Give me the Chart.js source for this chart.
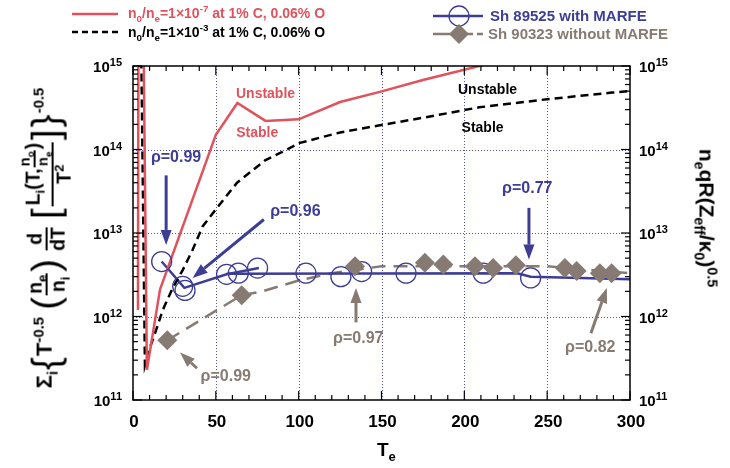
<!DOCTYPE html>
<html>
<head>
<meta charset="utf-8">
<script src="https://cdn.jsdelivr.net/npm/chart.js@4.4.0/dist/chart.umd.min.js"></script>
<style>
  html, body { margin:0; padding:0; background:#fff; }
  #wrap { position:relative; width:730px; height:468px; font-family:"Liberation Sans", Arial, sans-serif; font-weight:bold; }
  #c { position:absolute; left:0; top:0; }
  .lbl { position:absolute; white-space:nowrap; line-height:1; }
  .lbl sub, .lbl sup { font-size:70%; line-height:0; }
  .rot { position:absolute; white-space:nowrap; line-height:1; transform:translate(-50%,-50%) rotate(-90deg); }
  .rot90 { transform:translate(-50%,-50%) rotate(90deg); }
  .frac { display:inline-flex; flex-direction:column; vertical-align:middle; text-align:center; font-size:88%; line-height:1.05; margin:0 1px; }
  .frac > span:first-child { border-bottom:2px solid #000; padding:0 1px 1px; }
  .big { font-size:175%; font-weight:normal; vertical-align:middle; margin:0 1px; }
  .rot sub, .rot sup { font-size:68%; line-height:0; }
</style>
</head>
<body>
<div id="wrap">
  <canvas id="c" width="730" height="468"></canvas>

  <div class="lbl" style="left:128px;top:6px;font-size:14px;color:#e0525c">n<sub>0</sub>/n<sub>e</sub>=1&times;10<sup>-7</sup> at 1% C, 0.06% O</div>
  <div class="lbl" style="left:128px;top:25px;font-size:14px;color:#000">n<sub>0</sub>/n<sub>e</sub>=1&times;10<sup>-3</sup> at 1% C, 0.06% O</div>
  <div class="lbl" style="left:490px;top:8px;font-size:15px;color:#3d3d96">Sh 89525 with MARFE</div>
  <div class="lbl" style="left:488px;top:26px;font-size:15px;color:#877a72">Sh 90323 without MARFE</div>

  <div class="lbl" style="left:377px;top:440px;font-size:19px">T<sub style="font-size:13px">e</sub></div>

  <div class="rot" style="left:46px;top:238px;font-size:22px">
    &Sigma;<sub>i</sub><span class="big">{</span>T<sup>-0.5</sup> <span class="big">(</span><span class="frac"><span>n<sub>e</sub></span><span>n<sub>i</sub></span></span><span class="big">)</span>
    <span class="frac"><span>d</span><span>dT</span></span>
    <span class="big">[</span><span class="frac"><span>L<sub>i</sub>(T,<span class="frac" style="font-size:75%"><span>n<sub>o</sub></span><span>n<sub>e</sub></span></span>)</span><span>T<sup>2</sup></span></span><span class="big">]</span><span class="big">}</span><sup>-0.5</sup>
  </div>

  <div class="rot rot90" style="left:707px;top:218px;font-size:21px">n<sub>e</sub>qR(Z<sub>eff</sub>/&kappa;<sub>0</sub>)<sup>0.5</sup></div>
</div>

<script>
// ---------- DATA (T_e, value) ----------
const redT  = [3.0, 3.3, 6.0, 8.4, 16.3, 50, 63, 80, 100, 125, 149, 175, 209, 240];
const redV  = [1.2e12, 1e16, 1e16, 2.3e11, 2.1e12, 1.5e14, 3.6e14, 2.2e14, 2.3e14, 3.7e14, 4.9e14, 6.8e14, 1.0e15, 1.4e15];

const blackT = [4.5, 7.2, 10.3, 14.5, 18, 24, 30, 36, 42, 50.7, 62.8, 79.7, 100.8, 125, 149, 180, 209, 250, 289, 300];
const blackV = [1e16, 2.6e11, 4.3e11, 7.4e11, 1.2e12, 2.2e12, 3.6e12, 6.3e12, 1.2e13, 2.0e13, 4.0e13, 7.4e13, 1.2e14, 1.6e14, 1.95e14, 2.5e14, 3.2e14, 4.0e14, 4.8e14, 5.0e14];

const shotAT = [17.3, 30, 31.4, 56.5, 63.6, 75.2, 104.4, 125.5, 138, 164.8, 211.4, 240];
const shotAV = [4.55e12, 2.3e12, 2.05e12, 3.2e12, 3.3e12, 3.8e12, 3.3e12, 3.0e12, 3.45e12, 3.3e12, 3.3e12, 2.9e12];
const fitA1T = [17.3, 31, 56.5, 76];
const fitA1V = [4.55e12, 2.2e12, 3.2e12, 3.8e12];
const fitA2T = [56.5, 232, 240, 300];
const fitA2V = [3.25e12, 3.3e12, 3.0e12, 2.8e12];

const shotBT = [20.7, 65.6, 134, 176.2, 187.3, 206.4, 217.4, 231.1, 260.7, 267.8, 281.8, 288.9];
const shotBV = [5.2e11, 1.8e12, 4.0e12, 4.4e12, 4.2e12, 4.0e12, 3.8e12, 4.1e12, 3.8e12, 3.5e12, 3.3e12, 3.3e12];
const fitBT = [20.7, 65.6, 78, 100, 120, 150, 250, 300];
const fitBV = [5.2e11, 1.8e12, 2.0e12, 2.7e12, 3.3e12, 4.0e12, 4.0e12, 3.3e12];

const xTicks = [0, 50, 100, 150, 200, 250, 300];
const yDecades = [11, 12, 13, 14, 15];

const RED = '#e0525c', BLUE = '#3d3d96', GRAY = '#877a72', GRID = '#5555b0';

const pts = (ts, vs) => ts.map((t, i) => ({x: t, y: vs[i]}));

// annotations in data coordinates
const notes = [
  {text:'Unstable', t:80,  v:4.6e14, color:RED, size:14},
  {text:'Stable',   t:75,  v:1.55e14, color:RED, size:14},
  {text:'Unstable', t:214, v:5.1e14, color:'#000', size:14},
  {text:'Stable',   t:211, v:1.8e14, color:'#000', size:14},
  {text:'\u03c1=0.99', t:26,  v:8.0e13, color:BLUE, size:16},
  {text:'\u03c1=0.96', t:98,  v:1.8e13, color:BLUE, size:16},
  {text:'\u03c1=0.77', t:238, v:3.4e13, color:BLUE, size:16},
  {text:'\u03c1=0.99', t:56,  v:1.9e11, color:GRAY, size:16},
  {text:'\u03c1=0.97', t:136, v:5.5e11, color:GRAY, size:16},
  {text:'\u03c1=0.82', t:276, v:4.2e11, color:GRAY, size:16},
];
const arrows = [
  {from:[20, 4.9e13],  to:[20, 7.2e12],  color:BLUE},
  {from:[79, 1.45e13], to:[36, 2.9e12],  color:BLUE},
  {from:[239, 2.0e13], to:[239, 4.8e12], color:BLUE},
  {from:[38.6, 2.4e11], to:[28.4, 3.7e11], color:GRAY},
  {from:[134.6, 8.5e11], to:[134.6, 2.2e12], color:GRAY},
  {from:[276.4, 6.3e11], to:[286, 2.2e12], color:GRAY},
];

function arrow(ctx, x1, y1, x2, y2, color){
  const a = Math.atan2(y2 - y1, x2 - x1), hl = 15, hw = 5.5;
  const bx = x2 - hl * Math.cos(a), by = y2 - hl * Math.sin(a);
  ctx.strokeStyle = color; ctx.lineWidth = 3; ctx.setLineDash([]);
  ctx.beginPath(); ctx.moveTo(x1, y1); ctx.lineTo(bx, by); ctx.stroke();
  ctx.fillStyle = color; ctx.beginPath();
  ctx.moveTo(x2, y2);
  ctx.lineTo(bx - hw * Math.sin(a), by + hw * Math.cos(a));
  ctx.lineTo(bx + hw * Math.sin(a), by - hw * Math.cos(a));
  ctx.closePath(); ctx.fill();
}

function seg(ctx, x1, y1, x2, y2){ ctx.beginPath(); ctx.moveTo(x1, y1); ctx.lineTo(x2, y2); ctx.stroke(); }

const decor = {
  id: 'decor',
  beforeDatasetsDraw(chart){
    const {ctx, chartArea: a, scales: {x, y}} = chart;
    ctx.save();
    ctx.strokeStyle = GRID; ctx.lineWidth = 1; ctx.setLineDash([1, 2]);
    xTicks.slice(1, -1).forEach(t => { const px = Math.round(x.getPixelForValue(t)) + 0.5; seg(ctx, px, a.top, px, a.bottom); });
    yDecades.slice(1, -1).forEach(d => { const py = Math.round(y.getPixelForValue(Math.pow(10, d))) + 0.5; seg(ctx, a.left, py, a.right, py); });
    ctx.restore();
  },
  afterDatasetsDraw(chart){
    const {ctx, chartArea: a, scales: {x, y}} = chart;
    ctx.save();
    ctx.setLineDash([]);
    ctx.strokeStyle = '#000'; ctx.lineWidth = 1.5;
    ctx.strokeRect(a.left, a.top, a.right - a.left, a.bottom - a.top);

    // inner tick marks
    ctx.lineWidth = 1.2;
    for (let t = 0; t <= 300; t += 10){
      const px = x.getPixelForValue(t), L = t % 50 === 0 ? 9 : 5;
      seg(ctx, px, a.bottom, px, a.bottom - L);
      seg(ctx, px, a.top, px, a.top + L);
    }
    yDecades.forEach(d => {
      for (let m = 1; m <= 9; m++){
        if (d === 15 && m > 1) break;
        const py = y.getPixelForValue(m * Math.pow(10, d)), L = m === 1 ? 9 : 5;
        seg(ctx, a.left, py, a.left + L, py);
        seg(ctx, a.right, py, a.right - L, py);
      }
    });

    // tick labels
    ctx.fillStyle = '#000';
    ctx.font = 'bold 17px "Liberation Sans", Arial, sans-serif';
    ctx.textAlign = 'center'; ctx.textBaseline = 'middle';
    xTicks.forEach(t => ctx.fillText(String(t), x.getPixelForValue(t) + 1, a.bottom + 22));
    yDecades.forEach(d => {
      const py = y.getPixelForValue(Math.pow(10, d)) + 2;
      const sup = String(d);
      ctx.font = 'bold 11px "Liberation Sans", Arial, sans-serif';
      const sw = ctx.measureText(sup).width;
      ctx.font = 'bold 15px "Liberation Sans", Arial, sans-serif';
      const bw = ctx.measureText('10').width;
      // left
      ctx.textAlign = 'left';
      let x0 = a.left - 11 - sw - bw;
      ctx.fillText('10', x0, py);
      ctx.font = 'bold 11px "Liberation Sans", Arial, sans-serif';
      ctx.fillText(sup, x0 + bw, py - 5);
      // right
      x0 = a.right + 9;
      ctx.font = 'bold 15px "Liberation Sans", Arial, sans-serif';
      ctx.fillText('10', x0, py);
      ctx.font = 'bold 11px "Liberation Sans", Arial, sans-serif';
      ctx.fillText(sup, x0 + bw, py - 5);
    });

    // annotations
    arrows.forEach(ar => arrow(ctx,
      x.getPixelForValue(ar.from[0]), y.getPixelForValue(ar.from[1]),
      x.getPixelForValue(ar.to[0]), y.getPixelForValue(ar.to[1]), ar.color));
    ctx.textAlign = 'center'; ctx.textBaseline = 'middle';
    notes.forEach(n => {
      ctx.font = `bold ${n.size}px "Liberation Sans", Arial, sans-serif`;
      ctx.fillStyle = n.color;
      ctx.fillText(n.text, x.getPixelForValue(n.t), y.getPixelForValue(n.v));
    });

    // legend samples
    ctx.lineWidth = 2.5;
    ctx.strokeStyle = RED; seg(ctx, 72, 14, 118, 14);
    ctx.strokeStyle = '#000'; ctx.setLineDash([6, 4]); seg(ctx, 72, 32, 118, 32);
    ctx.setLineDash([]);
    ctx.strokeStyle = BLUE; seg(ctx, 433, 16, 483, 16);
    ctx.lineWidth = 1.3; ctx.beginPath(); ctx.arc(459, 16, 10, 0, Math.PI * 2); ctx.stroke();
    ctx.lineWidth = 2.5; ctx.strokeStyle = GRAY; seg(ctx, 433, 34, 473, 34); seg(ctx, 477, 34, 483, 34);
    ctx.fillStyle = GRAY; ctx.beginPath();
    ctx.moveTo(459, 24); ctx.lineTo(469, 34); ctx.lineTo(459, 44); ctx.lineTo(449, 34); ctx.closePath(); ctx.fill();
    ctx.restore();
  }
};

const lineDs = (ts, vs, color, width, dash, order) => ({
  data: pts(ts, vs), showLine: true, borderColor: color, borderWidth: width,
  borderDash: dash, pointRadius: 0, fill: false, order
});

new Chart(document.getElementById('c'), {
  type: 'scatter',
  data: {
    datasets: [
      lineDs(redT, redV, RED, 2.5, [], 3),
      lineDs(blackT, blackV, '#000', 2.5, [8, 5], 3),
      lineDs(fitA1T, fitA1V, BLUE, 2.5, [], 5),
      lineDs(fitA2T, fitA2V, BLUE, 2.5, [], 5),
      lineDs(fitBT, fitBV, GRAY, 2.5, [14, 8], 5),
      { data: pts(shotAT, shotAV), pointStyle: 'circle', pointRadius: 10, borderWidth: 1.3,
        borderColor: BLUE, backgroundColor: 'rgba(0,0,0,0)', order: 2 },
      { data: pts(shotBT, shotBV), pointStyle: 'rectRot', pointRadius: 10, borderWidth: 0,
        borderColor: GRAY, backgroundColor: GRAY, order: 1 },
    ]
  },
  options: {
    responsive: false,
    animation: false,
    layout: { padding: { left: 133, right: 100, top: 66, bottom: 68 } },
    plugins: { legend: { display: false }, tooltip: { enabled: false } },
    scales: {
      x: { type: 'linear', min: 0, max: 300, grid: { display: false }, border: { display: false },
           ticks: { display: false }, afterFit: s => { s.height = 0; } },
      y: { type: 'logarithmic', min: 1e11, max: 1e15, grid: { display: false }, border: { display: false },
           ticks: { display: false }, afterFit: s => { s.width = 0; } }
    }
  },
  plugins: [decor]
});
</script>
</body>
</html>
